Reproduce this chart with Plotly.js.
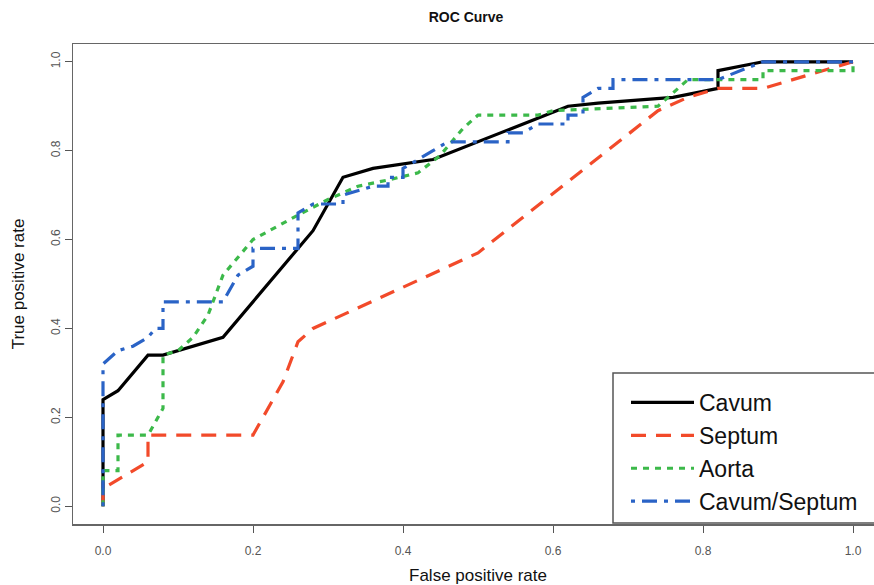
<!DOCTYPE html>
<html>
<head>
<meta charset="utf-8">
<script src="https://cdn.plot.ly/plotly-3.0.1.min.js"></script>
<style>
  html, body { margin: 0; padding: 0; overflow: hidden; background: #fff; }
  #chart { width: 890px; height: 585px; }
</style>
</head>
<body>
<div id="chart"></div>
<script>
// ---- data ----
const seriesNames = ["Cavum", "Septum", "Aorta", "Cavum/Septum"];

const cavumFPR = [0, 0, 0.02, 0.06, 0.08, 0.16, 0.28, 0.32, 0.36, 0.40, 0.44, 0.62, 0.66, 0.76, 0.82, 0.82, 0.88, 1.0];
const cavumTPR = [0, 0.24, 0.26, 0.34, 0.34, 0.38, 0.62, 0.74, 0.76, 0.77, 0.78, 0.90, 0.907, 0.92, 0.94, 0.98, 1.0, 1.0];

const septumFPR = [0, 0, 0.02, 0.06, 0.06, 0.20, 0.24, 0.26, 0.28, 0.46, 0.50, 0.74, 0.78, 0.82, 0.88, 1.0];
const septumTPR = [0, 0.04, 0.06, 0.10, 0.16, 0.16, 0.28, 0.37, 0.40, 0.54, 0.57, 0.89, 0.92, 0.94, 0.94, 1.0];

const aortaFPR = [0, 0, 0.02, 0.02, 0.06, 0.08, 0.08, 0.10, 0.12, 0.14, 0.16, 0.18, 0.20, 0.26, 0.30, 0.34, 0.38, 0.42, 0.45, 0.48, 0.50, 0.58, 0.60, 0.74, 0.78, 0.88, 0.88, 1.0, 1.0];
const aortaTPR = [0, 0.08, 0.08, 0.16, 0.16, 0.22, 0.34, 0.35, 0.38, 0.43, 0.52, 0.56, 0.60, 0.655, 0.69, 0.72, 0.734, 0.75, 0.79, 0.85, 0.88, 0.88, 0.89, 0.90, 0.96, 0.96, 0.98, 0.98, 1.0];

const comboFPR = [0, 0, 0.02, 0.04, 0.06, 0.07, 0.08, 0.08, 0.16, 0.18, 0.20, 0.20, 0.26, 0.26, 0.28, 0.32, 0.32, 0.36, 0.38, 0.38, 0.40, 0.40, 0.44, 0.46, 0.54, 0.54, 0.56, 0.58, 0.62, 0.62, 0.64, 0.64, 0.66, 0.68, 0.68, 0.82, 0.88, 1.0];
const comboTPR = [0, 0.32, 0.35, 0.36, 0.38, 0.40, 0.40, 0.46, 0.46, 0.52, 0.54, 0.58, 0.58, 0.66, 0.68, 0.68, 0.70, 0.72, 0.72, 0.74, 0.74, 0.76, 0.80, 0.82, 0.82, 0.84, 0.84, 0.86, 0.86, 0.88, 0.88, 0.92, 0.94, 0.94, 0.96, 0.96, 1.0, 1.0];

const tickValues = [0, 0.2, 0.4, 0.6, 0.8, 1.0];
const tickLabels = ["0.0", "0.2", "0.4", "0.6", "0.8", "1.0"];

// ---- traces ----
const traces = [
  { x: cavumFPR, y: cavumTPR, name: seriesNames[0], mode: "lines",
    line: { color: "#000000", width: 3.2, dash: "solid" } },
  { x: septumFPR, y: septumTPR, name: seriesNames[1], mode: "lines",
    line: { color: "#f24a2a", width: 3.2, dash: "15px,10px" } },
  { x: aortaFPR, y: aortaTPR, name: seriesNames[2], mode: "lines",
    line: { color: "#3cb94a", width: 3.2, dash: "6px,6px" } },
  { x: comboFPR, y: comboTPR, name: seriesNames[3], mode: "lines",
    line: { color: "#2a63c6", width: 3.2, dash: "4px,7px,15px,7px" } }
];

// plot area geometry (px): left 73, width 810, top 44, height 480
const px2x = p => (p - 73) / 810;
const px2y = p => (524 - p) / 480;

const tickFont = { family: "'Liberation Sans Narrow', 'Arial Narrow', 'Liberation Sans', Arial, sans-serif", size: 12, color: "#555" };
const titleFont = { family: "'Liberation Sans', Arial, sans-serif", size: 17, color: "#111" };

const layout = {
  width: 890, height: 585,
  margin: { l: 73, r: 7, t: 44, b: 61 },
  paper_bgcolor: "#ffffff", plot_bgcolor: "#ffffff",
  title: { text: "<b>ROC Curve</b>", x: px2x(466), xref: "paper", xanchor: "center",
           y: 1 - 17 / 585, yref: "container", yanchor: "middle",
           font: { family: "'Liberation Sans', Arial, sans-serif", size: 14, color: "#111" } },
  xaxis: {
    range: [-0.04, 1.04], tickvals: tickValues, ticktext: tickLabels,
    ticks: "outside", ticklen: 7, tickwidth: 1, tickcolor: "#555",
    showline: true, mirror: true, linecolor: "#666", linewidth: 1.5,
    showgrid: false, zeroline: false, tickfont: tickFont, ticklabelstandoff: 8,
    title: { text: "False positive rate", font: titleFont, standoff: 14 }
  },
  yaxis: {
    range: [-0.04, 1.04], tickvals: tickValues, ticktext: tickLabels, tickangle: -90,
    ticks: "outside", ticklen: 7, tickwidth: 1, tickcolor: "#555",
    showline: true, mirror: true, linecolor: "#666", linewidth: 1.5,
    showgrid: false, zeroline: false, tickfont: tickFont, ticklabelstandoff: 0,
    title: { text: "True positive rate", font: titleFont, standoff: 20 }
  },
  shapes: [
    { type: "rect", xref: "paper", yref: "paper", layer: "above",
      x0: px2x(613), x1: 1.2, y0: px2y(523), y1: px2y(373),
      fillcolor: "#ffffff", line: { color: "#555", width: 1.5 } }
  ],
  showlegend: true,
  legend: {
    x: px2x(626), y: px2y(381), xanchor: "left", yanchor: "top",
    bgcolor: "rgba(0,0,0,0)", borderwidth: 0,
    font: { family: "'Liberation Sans', Arial, sans-serif", size: 23, color: "#111" },
    itemwidth: 63, tracegroupgap: 0
  }
};

Plotly.newPlot("chart", traces, layout, { displayModeBar: false, staticPlot: true });
</script>
</body>
</html>
